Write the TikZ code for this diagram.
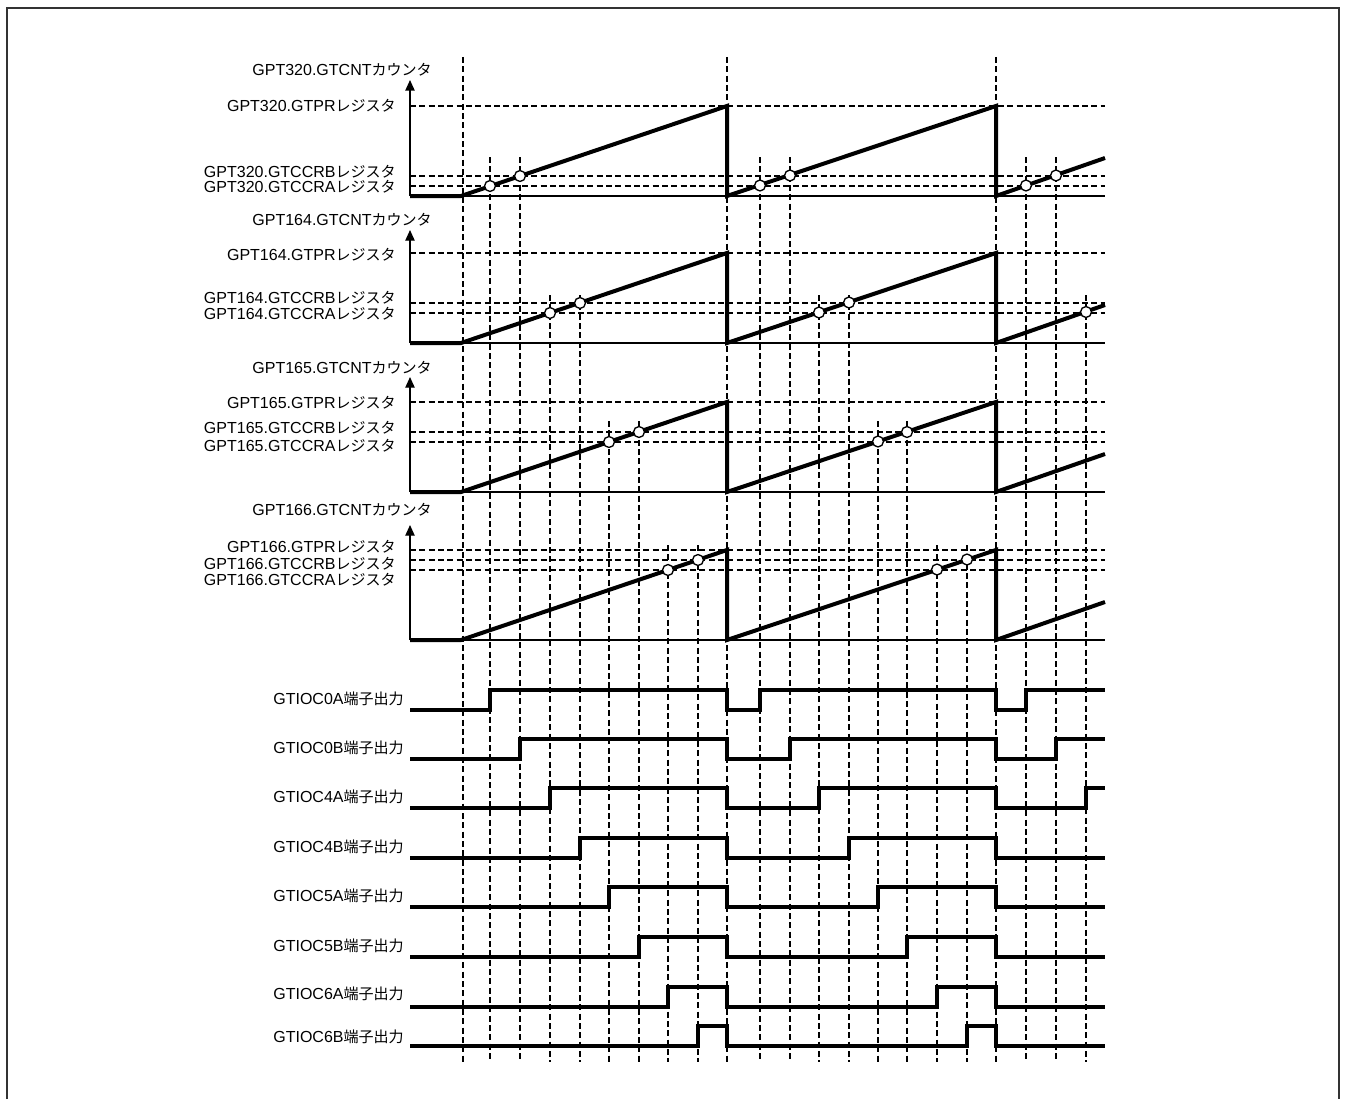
\documentclass[tikz,border=0pt]{standalone}
\usepackage{fontspec}
\setmainfont{Liberation Sans}
\newfontfamily\jpfont[Scale=0.94]{Noto Sans CJK JP}
\newcommand{\jp}[1]{{\jpfont #1}}
\usetikzlibrary{arrows.meta}

\begin{document}
\begin{tikzpicture}[x=0.75pt,y=-0.75pt,>={Triangle[length=8pt,width=7pt]},font=\fontsize{12pt}{14pt}\selectfont,
  wave/.style={line width=3pt},
  guide/.style={line width=1.4pt,dash pattern=on 4.5pt off 2.5pt},
  zero/.style={line width=1pt},
  hit/.style={fill=white,draw,line width=1pt},
  lbl/.style={anchor=east,inner sep=0pt}]
\useasboundingbox (0,0) rectangle (1345,1099);
% frame
\draw[black!80,line width=1.8pt] (7,1099) -- (7,8) -- (1339,8) -- (1339,1099);

% time guides
\draw[guide] (463,57) -- (463,1062);
\draw[guide] (727,57) -- (727,1062);
\draw[guide] (996,57) -- (996,1062);
\draw[guide] (490,157) -- (490,1062);
\draw[guide] (520,157) -- (520,1062);
\draw[guide] (760,157) -- (760,1062);
\draw[guide] (790,157) -- (790,1062);
\draw[guide] (1026,157) -- (1026,1062);
\draw[guide] (1056,157) -- (1056,1062);
\draw[guide] (550,295) -- (550,1062);
\draw[guide] (580,295) -- (580,1062);
\draw[guide] (819,295) -- (819,1062);
\draw[guide] (849,295) -- (849,1062);
\draw[guide] (1086,295) -- (1086,1062);
\draw[guide] (609,421) -- (609,1062);
\draw[guide] (639,421) -- (639,1062);
\draw[guide] (878,421) -- (878,1062);
\draw[guide] (907,421) -- (907,1062);
\draw[guide] (668,545) -- (668,1062);
\draw[guide] (698,545) -- (698,1062);
\draw[guide] (937,545) -- (937,1062);
\draw[guide] (967,545) -- (967,1062);

% GPT320
\node[lbl] (cnt320) at (432,70) {GPT320.GTCNT\jp{カウンタ}};
\node[lbl] (pr320) at (396,106) {GPT320.GTPR\jp{レジスタ}};
\node[lbl] (ccrb320) at (396,172) {GPT320.GTCCRB\jp{レジスタ}};
\node[lbl] (ccra320) at (396,187) {GPT320.GTCCRA\jp{レジスタ}};
\draw[guide] (410,106) -- (1105,106);
\draw[guide] (410,176) -- (1105,176);
\draw[guide] (410,186) -- (1105,186);
\draw[zero] (410,196) -- (1105,196);
\draw[zero,->] (410,196) -- (410,80);
\draw[wave] (410,196) -- (461,196) -- (727,106) -- (727,196) -- (996,106) -- (996,196) -- (1105,158);
\draw[hit] (490,186) circle (4.1pt);
\draw[hit] (520,176) circle (4.1pt);
\draw[hit] (760,185.5) circle (4.1pt);
\draw[hit] (790,175.5) circle (4.1pt);
\draw[hit] (1026,185.5) circle (4.1pt);
\draw[hit] (1056,175.5) circle (4.1pt);

% GPT164
\node[lbl] (cnt164) at (432,220) {GPT164.GTCNT\jp{カウンタ}};
\node[lbl] (pr164) at (396,255) {GPT164.GTPR\jp{レジスタ}};
\node[lbl] (ccrb164) at (396,298) {GPT164.GTCCRB\jp{レジスタ}};
\node[lbl] (ccra164) at (396,314) {GPT164.GTCCRA\jp{レジスタ}};
\draw[guide] (410,253) -- (1105,253);
\draw[guide] (410,303) -- (1105,303);
\draw[guide] (410,313) -- (1105,313);
\draw[zero] (410,343) -- (1105,343);
\draw[zero,->] (410,343) -- (410,230);
\draw[wave] (410,343) -- (461,343) -- (727,253) -- (727,343) -- (996,253) -- (996,343) -- (1105,305);
\draw[hit] (550,313) circle (4.1pt);
\draw[hit] (580,303) circle (4.1pt);
\draw[hit] (819,312.5) circle (4.1pt);
\draw[hit] (849,302.5) circle (4.1pt);
\draw[hit] (1086,312) circle (4.1pt);

% GPT165
\node[lbl] (cnt165) at (432,368) {GPT165.GTCNT\jp{カウンタ}};
\node[lbl] (pr165) at (396,403) {GPT165.GTPR\jp{レジスタ}};
\node[lbl] (ccrb165) at (396,428) {GPT165.GTCCRB\jp{レジスタ}};
\node[lbl] (ccra165) at (396,446) {GPT165.GTCCRA\jp{レジスタ}};
\draw[guide] (410,402) -- (1105,402);
\draw[guide] (410,432) -- (1105,432);
\draw[guide] (410,442) -- (1105,442);
\draw[zero] (410,492) -- (1105,492);
\draw[zero,->] (410,492) -- (410,377);
\draw[wave] (410,492) -- (461,492) -- (727,402) -- (727,492) -- (996,402) -- (996,492) -- (1105,454);
\draw[hit] (609,442) circle (4.1pt);
\draw[hit] (639,432) circle (4.1pt);
\draw[hit] (878,441.5) circle (4.1pt);
\draw[hit] (907,432) circle (4.1pt);

% GPT166
\node[lbl] (cnt166) at (432,510) {GPT166.GTCNT\jp{カウンタ}};
\node[lbl] (pr166) at (396,547) {GPT166.GTPR\jp{レジスタ}};
\node[lbl] (ccrb166) at (396,564) {GPT166.GTCCRB\jp{レジスタ}};
\node[lbl] (ccra166) at (396,580) {GPT166.GTCCRA\jp{レジスタ}};
\draw[guide] (410,550) -- (1105,550);
\draw[guide] (410,560) -- (1105,560);
\draw[guide] (410,570) -- (1105,570);
\draw[zero] (410,640) -- (1105,640);
\draw[zero,->] (410,640) -- (410,525);
\draw[wave] (410,640) -- (461,640) -- (727,550) -- (727,640) -- (996,550) -- (996,640) -- (1105,602);
\draw[hit] (668,570) circle (4.1pt);
\draw[hit] (698,560) circle (4.1pt);
\draw[hit] (937,569.5) circle (4.1pt);
\draw[hit] (967,559.5) circle (4.1pt);

% pin outputs
\node[lbl] (oc0a) at (404,699) {GTIOC0A\jp{端子出力}};
\draw[wave] (410,710) -- (490,710) -- (490,690) -- (727,690) -- (727,710) -- (760,710) -- (760,690) -- (996,690) -- (996,710) -- (1026,710) -- (1026,690) -- (1105,690);
\node[lbl] (oc0b) at (404,748) {GTIOC0B\jp{端子出力}};
\draw[wave] (410,759) -- (520,759) -- (520,739) -- (727,739) -- (727,759) -- (790,759) -- (790,739) -- (996,739) -- (996,759) -- (1056,759) -- (1056,739) -- (1105,739);
\node[lbl] (oc4a) at (404,797) {GTIOC4A\jp{端子出力}};
\draw[wave] (410,808) -- (550,808) -- (550,788) -- (727,788) -- (727,808) -- (819,808) -- (819,788) -- (996,788) -- (996,808) -- (1086,808) -- (1086,788) -- (1105,788);
\node[lbl] (oc4b) at (404,847) {GTIOC4B\jp{端子出力}};
\draw[wave] (410,858) -- (580,858) -- (580,838) -- (727,838) -- (727,858) -- (849,858) -- (849,838) -- (996,838) -- (996,858) -- (1105,858);
\node[lbl] (oc5a) at (404,896) {GTIOC5A\jp{端子出力}};
\draw[wave] (410,907) -- (609,907) -- (609,887) -- (727,887) -- (727,907) -- (878,907) -- (878,887) -- (996,887) -- (996,907) -- (1105,907);
\node[lbl] (oc5b) at (404,946) {GTIOC5B\jp{端子出力}};
\draw[wave] (410,957) -- (639,957) -- (639,937) -- (727,937) -- (727,957) -- (907,957) -- (907,937) -- (996,937) -- (996,957) -- (1105,957);
\node[lbl] (oc6a) at (404,994) {GTIOC6A\jp{端子出力}};
\draw[wave] (410,1007) -- (668,1007) -- (668,987) -- (727,987) -- (727,1007) -- (937,1007) -- (937,987) -- (996,987) -- (996,1007) -- (1105,1007);
\node[lbl] (oc6b) at (404,1037) {GTIOC6B\jp{端子出力}};
\draw[wave] (410,1046) -- (698,1046) -- (698,1026) -- (727,1026) -- (727,1046) -- (967,1046) -- (967,1026) -- (996,1026) -- (996,1046) -- (1105,1046);
\end{tikzpicture}
\end{document}
